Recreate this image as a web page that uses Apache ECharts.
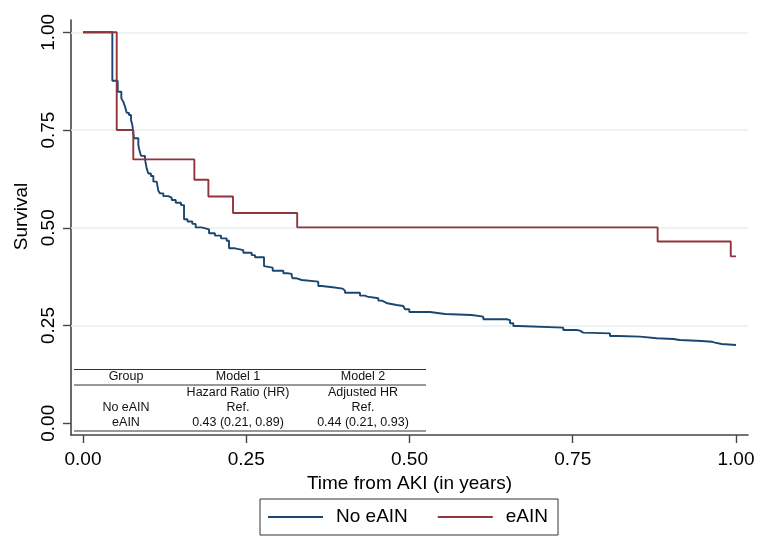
<!DOCTYPE html>
<html>
<head>
<meta charset="utf-8">
<script src="https://cdn.jsdelivr.net/npm/echarts@6/dist/echarts.min.js"></script>
<style>
html,body{margin:0;padding:0;background:#fff;}
#chart{width:768px;height:553px;}
</style>
</head>
<body>
<div id="chart"></div>
<script>
// ---- data ----
const seriesNames = ['No eAIN', 'eAIN'];
const timeTicks = [0, 0.25, 0.5, 0.75, 1.0];
const survTicks = [0, 0.25, 0.5, 0.75, 1.0];
const gridValues = [0.25, 0.5, 0.75, 1.0];

// Kaplan-Meier steps: [time, survival after step]
const noEAIN = [
  [0, 1], [0.0449, 0.876], [0.0531, 0.848], [0.0587, 0.831], [0.0617, 0.8225],
  [0.0643, 0.81], [0.0669, 0.794], [0.0704, 0.7885], [0.0735, 0.776], [0.0755, 0.763],
  [0.078, 0.729], [0.0847, 0.712], [0.0863, 0.699], [0.0888, 0.684], [0.0949, 0.675],
  [0.0975, 0.652], [0.100, 0.639], [0.104, 0.6325], [0.1077, 0.618], [0.1128, 0.614],
  [0.1153, 0.595], [0.118, 0.588], [0.123, 0.581], [0.1307, 0.577], [0.1358, 0.571],
  [0.142, 0.564], [0.150, 0.558], [0.1547, 0.522], [0.160, 0.516], [0.1674, 0.510],
  [0.1725, 0.501], [0.1817, 0.496], [0.193, 0.486], [0.202, 0.480], [0.2113, 0.473],
  [0.220, 0.467], [0.2236, 0.4475], [0.2328, 0.443], [0.2455, 0.436], [0.2583, 0.430],
  [0.2634, 0.4245], [0.2772, 0.402], [0.2802, 0.398], [0.2905, 0.390], [0.3068, 0.3836],
  [0.3129, 0.382], [0.3196, 0.3767], [0.3211, 0.3708], [0.3272, 0.3665], [0.3349, 0.3622],
  [0.3603, 0.351], [0.3655, 0.3478], [0.3824, 0.3443], [0.3977, 0.3392], [0.4012, 0.334],
  [0.4242, 0.3264], [0.4319, 0.3238], [0.4354, 0.3197], [0.4523, 0.3136], [0.4574, 0.311],
  [0.461, 0.3069], [0.466, 0.3026], [0.4804, 0.300], [0.4905, 0.2967], [0.4931, 0.2916],
  [0.4997, 0.2847], [0.5314, 0.2796], [0.5544, 0.277], [0.5952, 0.2727], [0.613, 0.266],
  [0.6488, 0.264], [0.654, 0.2557], [0.659, 0.2488], [0.6667, 0.2446], [0.7355, 0.2386],
  [0.756, 0.2369], [0.761, 0.2318], [0.766, 0.230], [0.807, 0.2233], [0.820, 0.2215],
  [0.853, 0.2174], [0.8786, 0.2156], [0.904, 0.213], [0.914, 0.2105], [0.9475, 0.2087],
  [0.9627, 0.2062], [0.9678, 0.2028], [0.978, 0.2003], [1.0, 0.2003]
];
const eAIN = [
  [0, 1], [0.0516, 0.75], [0.077, 0.675], [0.1705, 0.623], [0.192, 0.58],
  [0.2297, 0.538], [0.328, 0.501], [0.880, 0.465], [0.992, 0.427], [1.0, 0.427]
];

// inset table text
const tableHeader = ['Group', 'Model 1', 'Model 2'];
const tableSubHeader = ['', 'Hazard Ratio (HR)', 'Adjusted HR'];
const tableRow1 = ['No eAIN', 'Ref.', 'Ref.'];
const tableRow2 = ['eAIN', '0.43 (0.21, 0.89)', '0.44 (0.21, 0.93)'];

// ---- chart ----
const FONT = '"Liberation Sans", Arial, Helvetica, sans-serif';
const BLUE = '#1a476f';
const RED = '#90353b';
const AXIS = '#454545';

const colX = [126, 238, 363];
const rowY = [377, 393, 408, 423];
const tableRows = [tableHeader, tableSubHeader, tableRow1, tableRow2];
const graphics = [];
tableRows.forEach((row, r) => {
  row.forEach((txt, c) => {
    if (!txt) return;
    graphics.push({
      type: 'text', silent: true, z: 10,
      style: { text: txt, x: colX[c], y: rowY[r], align: 'center', verticalAlign: 'middle',
               font: '12.5px ' + FONT, fill: '#111' }
    });
  });
});
[369.5, 385, 431].forEach(y => {
  graphics.push({ type: 'line', silent: true, z: 10,
    shape: { x1: 74, y1: y, x2: 426, y2: y },
    style: { stroke: '#333', lineWidth: 1 } });
});

const chart = echarts.init(document.getElementById('chart'), null, { renderer: 'canvas' });
chart.setOption({
  animation: false,
  backgroundColor: '#fff',
  textStyle: { fontFamily: FONT },
  grid: { left: 71, top: 20, right: 20, bottom: 118, containLabel: false },
  xAxis: {
    type: 'value', min: -0.0184, max: 1.0184,
    name: 'Time from AKI (in years)', nameLocation: 'middle', nameGap: 32,
    nameTextStyle: { fontSize: 19, color: '#000', fontFamily: FONT },
    axisLine: { show: true, onZero: false, lineStyle: { color: AXIS, width: 1.6 } },
    axisTick: { show: true, length: 8, customValues: timeTicks, lineStyle: { color: AXIS, width: 1.4 } },
    axisLabel: { customValues: timeTicks, margin: 15, fontSize: 19, color: '#000', fontFamily: FONT,
                 formatter: v => v.toFixed(2) },
    splitLine: { show: false }
  },
  yAxis: {
    type: 'value', min: -0.03, max: 1.0315,
    name: 'Survival', nameLocation: 'middle', nameGap: 35,
    nameTextStyle: { fontSize: 19, color: '#000', fontFamily: FONT, padding: [0, 0, 0, 22] },
    axisLine: { show: true, onZero: false, lineStyle: { color: AXIS, width: 1.6 } },
    axisTick: { show: true, length: 8, customValues: survTicks, lineStyle: { color: AXIS, width: 1.4 } },
    axisLabel: { customValues: survTicks, rotate: 90, margin: 13, fontSize: 19, color: '#000', fontFamily: FONT,
                 formatter: v => v.toFixed(2) },
    splitLine: { show: false }
  },
  legend: {
    left: 260, top: 499,
    data: seriesNames.map(n => ({ name: n, icon: 'rect' })),
    itemWidth: 55, itemHeight: 2, itemGap: 30,
    padding: [8, 10, 8, 8],
    borderColor: '#333', borderWidth: 1,
    textStyle: { fontSize: 19, color: '#000', fontFamily: FONT, padding: [0, 0, 0, 8], lineHeight: 20 }
  },
  series: [
    {
      name: seriesNames[0], type: 'line', step: 'end', data: noEAIN,
      symbol: 'none', z: 3,
      lineStyle: { color: BLUE, width: 1.9 }, itemStyle: { color: BLUE },
      markLine: {
        silent: true, symbol: 'none', label: { show: false }, z: 1,
        lineStyle: { color: '#e6eff1', width: 1.6, type: 'solid' },
        data: gridValues.map(v => ({ yAxis: v }))
      }
    },
    {
      name: seriesNames[1], type: 'line', step: 'end', data: eAIN,
      symbol: 'none', z: 4,
      lineStyle: { color: RED, width: 1.9 }, itemStyle: { color: RED }
    }
  ],
  graphic: graphics
});
</script>
</body>
</html>
